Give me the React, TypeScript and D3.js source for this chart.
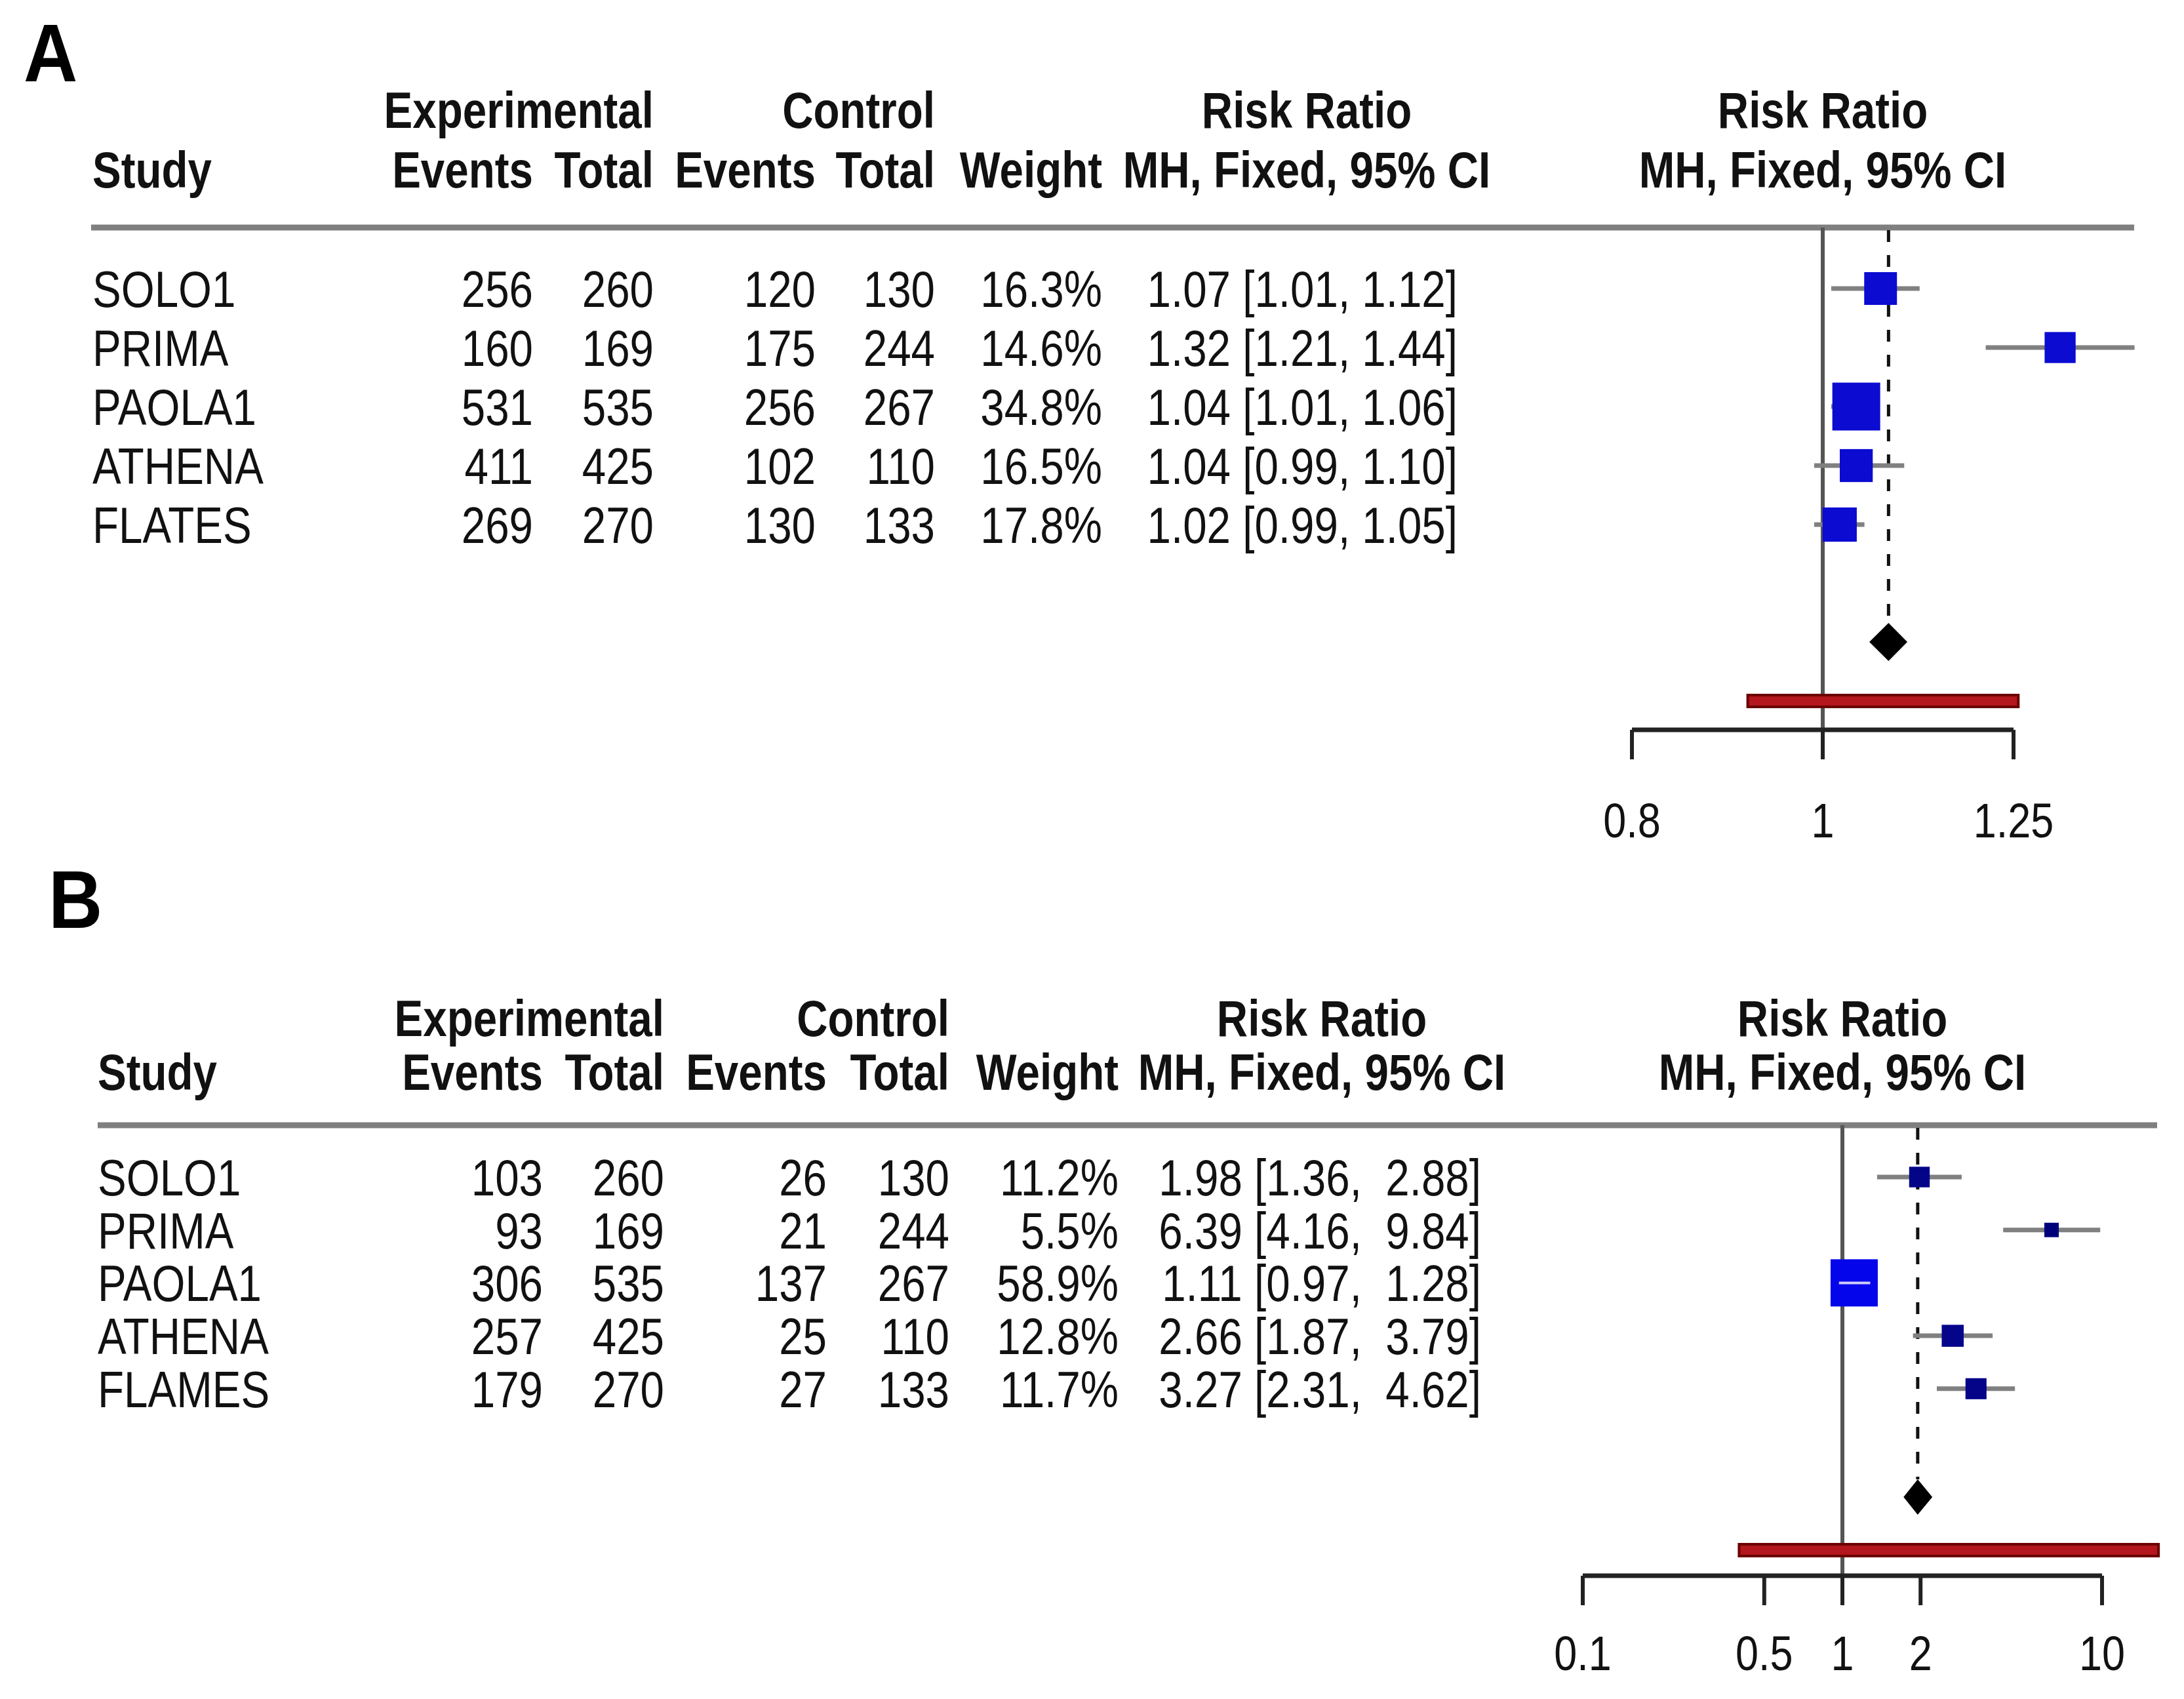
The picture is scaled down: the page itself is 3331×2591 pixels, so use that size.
import React from 'react';
import * as d3 from 'd3';

// ---- Panel A ----
const studiesA = ['SOLO1', 'PRIMA', 'PAOLA1', 'ATHENA', 'FLATES'];
const expEventsA = [256, 160, 531, 411, 269];
const expTotalA = [260, 169, 535, 425, 270];
const ctrlEventsA = [120, 175, 256, 102, 130];
const ctrlTotalA = [130, 244, 267, 110, 133];
const weightA = [16.3, 14.6, 34.8, 16.5, 17.8];
const rrA = [1.07, 1.32, 1.04, 1.04, 1.02];
const lowerA = [1.01, 1.21, 1.01, 0.99, 0.99];
const upperA = [1.12, 1.44, 1.06, 1.10, 1.05];
const pooledA = [1.056, 1.08, 1.104]; // lower, estimate, upper
const predictA = [0.916, 1.257];
const ticksA = [0.8, 1, 1.25];

// ---- Panel B ----
const studiesB = ['SOLO1', 'PRIMA', 'PAOLA1', 'ATHENA', 'FLAMES'];
const expEventsB = [103, 93, 306, 257, 179];
const expTotalB = [260, 169, 535, 425, 270];
const ctrlEventsB = [26, 21, 137, 25, 27];
const ctrlTotalB = [130, 244, 267, 110, 133];
const weightB = [11.2, 5.5, 58.9, 12.8, 11.7];
const rrB = [1.98, 6.39, 1.11, 2.66, 3.27];
const lowerB = [1.36, 4.16, 0.97, 1.87, 2.31];
const upperB = [2.88, 9.84, 1.28, 3.79, 4.62];
const pooledB = [1.72, 1.95, 2.22];
const predictB = [0.40, 16.5];
const ticksB = [0.1, 0.5, 1, 2, 10];

const FONT = "'Liberation Sans', Arial, sans-serif";
const FS = 78;
const SX = 0.84; // the original text is condensed horizontally

// condensed text anchored at (x, y)
const T: React.FC<any> = ({ x, y, anchor = 'start', children, ...rest }) => (
    <text transform={`translate(${x},${y}) scale(${SX},1)`} textAnchor={anchor}
        style={{ whiteSpace: 'pre' }} {...rest}>{children}</text>
);

interface Layout {
    labelX: number; labelY: number;
    head1Y: number; head2Y: number;
    ruleY: number; ruleX1: number; ruleX2: number;
    row0: number; rowStep: number;
    studyX: number; cols: number[]; ciRight: number; ciCenter: number;
    xRange: [number, number];
    diamondY: number; diamondH: number;
    predY: number; axisY: number; tickLabelY: number;
    sqMax: number;
}

interface PanelProps {
    label: string;
    studies: string[];
    expEvents: number[]; expTotal: number[];
    ctrlEvents: number[]; ctrlTotal: number[];
    weight: number[]; rr: number[]; lower: number[]; upper: number[];
    pooled: number[]; predict: number[]; ticks: number[];
    ciSep: string;
    squareColor: (w: number) => string;
    insideColor: string;
    layout: Layout;
}

const Panel: React.FC<PanelProps> = (p) => {
    const L = p.layout;
    const x = d3.scaleLog()
        .domain([p.ticks[0], p.ticks[p.ticks.length - 1]])
        .range(L.xRange);
    const sq = d3.scaleSqrt()
        .domain([0, d3.max(p.weight) as number])
        .range([0, L.sqMax]);
    const base = (i: number) => L.row0 + i * L.rowStep;
    const mid = (i: number) => base(i) - 28;
    const f2 = d3.format('.2f');
    const plotMid = (L.xRange[0] + L.xRange[1]) / 2;

    const numCols = [p.expEvents, p.expTotal, p.ctrlEvents, p.ctrlTotal];
    const headCols = ['Events', 'Total', 'Events', 'Total', 'Weight'];

    return (
        <g fontFamily={FONT} fill="#111">
            <text x={L.labelX} y={L.labelY} fontSize={124} fontWeight="bold" fill="#000"
                transform={`translate(${L.labelX},${L.labelY}) scale(0.92,1) translate(${-L.labelX},${-L.labelY})`}>
                {p.label}
            </text>

            {/* headers */}
            <g fontWeight="bold" fontSize={FS}>
                <T x={L.cols[1]} y={L.head1Y} anchor="end">Experimental</T>
                <T x={L.cols[3]} y={L.head1Y} anchor="end">Control</T>
                <T x={L.ciCenter} y={L.head1Y} anchor="middle">Risk Ratio</T>
                <T x={plotMid} y={L.head1Y} anchor="middle">Risk Ratio</T>
                <T x={L.studyX} y={L.head2Y}>Study</T>
                {headCols.map((h, j) => (
                    <T key={j} x={L.cols[j]} y={L.head2Y} anchor="end">{h}</T>
                ))}
                <T x={L.ciCenter} y={L.head2Y} anchor="middle">MH, Fixed, 95% CI</T>
                <T x={plotMid} y={L.head2Y} anchor="middle">MH, Fixed, 95% CI</T>
            </g>

            <line x1={L.ruleX1} x2={L.ruleX2} y1={L.ruleY} y2={L.ruleY}
                stroke="#7f7f7f" strokeWidth={9} />

            {/* table rows */}
            <g fontSize={FS}>
                {p.studies.map((s, i) => (
                    <g key={s}>
                        <T x={L.studyX} y={base(i)}>{s}</T>
                        {numCols.map((c, j) => (
                            <T key={j} x={L.cols[j]} y={base(i)} anchor="end">{c[i]}</T>
                        ))}
                        <T x={L.cols[4]} y={base(i)} anchor="end">{p.weight[i].toFixed(1)}%</T>
                        <T x={L.ciRight} y={base(i)} anchor="end">
                            {`${f2(p.rr[i])} [${f2(p.lower[i])},${p.ciSep}${f2(p.upper[i])}]`}
                        </T>
                    </g>
                ))}
            </g>

            {/* reference line at 1 */}
            <line x1={x(1)} x2={x(1)} y1={L.ruleY} y2={L.axisY} stroke="#555" strokeWidth={6} />
            {/* pooled estimate dashed line */}
            <line x1={x(p.pooled[1])} x2={x(p.pooled[1])} y1={L.ruleY + 4} y2={L.diamondY - L.diamondH}
                stroke="#111" strokeWidth={5} strokeDasharray="18 20" />

            {/* study CIs and squares */}
            {p.studies.map((s, i) => {
                const cx = x(p.rr[i]);
                const size = sq(p.weight[i]);
                const inside = x(p.lower[i]) >= cx - size / 2 && x(p.upper[i]) <= cx + size / 2;
                return (
                    <g key={s}>
                        <line x1={x(p.lower[i])} x2={x(p.upper[i])} y1={mid(i)} y2={mid(i)}
                            stroke="#808080" strokeWidth={7} />
                        <rect x={cx - size / 2} y={mid(i) - size / 2} width={size} height={size}
                            fill={p.squareColor(p.weight[i])} />
                        {inside && (
                            <line x1={x(p.lower[i])} x2={x(p.upper[i])} y1={mid(i)} y2={mid(i)}
                                stroke={p.insideColor} strokeWidth={4} opacity={0.8} />
                        )}
                    </g>
                );
            })}

            {/* pooled diamond */}
            <path d={`M${x(p.pooled[0])},${L.diamondY} L${x(p.pooled[1])},${L.diamondY - L.diamondH} L${x(p.pooled[2])},${L.diamondY} L${x(p.pooled[1])},${L.diamondY + L.diamondH} Z`}
                fill="#000" />

            {/* prediction interval */}
            <rect x={x(p.predict[0])} y={L.predY - 9} width={x(p.predict[1]) - x(p.predict[0])} height={18}
                fill="#b3161c" stroke="#6b0000" strokeWidth={4} />

            {/* axis */}
            <line x1={x(p.ticks[0])} x2={x(p.ticks[p.ticks.length - 1])} y1={L.axisY} y2={L.axisY}
                stroke="#222" strokeWidth={7} />
            {p.ticks.map(t => (
                <g key={t}>
                    <line x1={x(t)} x2={x(t)} y1={L.axisY} y2={L.axisY + 45} stroke="#222" strokeWidth={6} />
                    <T x={x(t)} y={L.tickLabelY} anchor="middle" fontSize={75}>{String(t)}</T>
                </g>
            ))}
        </g>
    );
};

const layoutA: Layout = {
    labelX: 36, labelY: 124,
    head1Y: 195, head2Y: 286,
    ruleY: 347, ruleX1: 139, ruleX2: 3255,
    row0: 468, rowStep: 90,
    studyX: 141, cols: [813, 997, 1244, 1426, 1681], ciRight: 2223, ciCenter: 1993,
    xRange: [2489, 3071],
    diamondY: 979, diamondH: 29,
    predY: 1069, axisY: 1113, tickLabelY: 1277,
    sqMax: 73,
};

const layoutB: Layout = {
    labelX: 74, labelY: 1415,
    head1Y: 1580, head2Y: 1662,
    ruleY: 1716, ruleX1: 149, ruleX2: 3290,
    row0: 1823, rowStep: 80.7,
    studyX: 149, cols: [828, 1013, 1261, 1448, 1706], ciRight: 2259, ciCenter: 2016,
    xRange: [2414, 3206],
    diamondY: 2283, diamondH: 27,
    predY: 2364, axisY: 2403, tickLabelY: 2547,
    sqMax: 72,
};

// small squares in B look navy, the big one bright blue
const colorB = d3.scaleLinear<string>().domain([5, 20, 60]).range(['#00007a', '#0a0a9c', '#0505ee']);

const App: React.FC = () => (
    <svg width={3331} height={2591} viewBox="0 0 3331 2591"
        style={{ position: 'absolute', left: 0, top: 0, background: '#fff' }}>
        <rect width={3331} height={2591} fill="#fff" />
        <Panel label="A" studies={studiesA} expEvents={expEventsA} expTotal={expTotalA}
            ctrlEvents={ctrlEventsA} ctrlTotal={ctrlTotalA} weight={weightA}
            rr={rrA} lower={lowerA} upper={upperA} pooled={pooledA} predict={predictA}
            ticks={ticksA} ciSep=" " squareColor={() => '#0b0bd2'} insideColor="#10106a"
            layout={layoutA} />
        <Panel label="B" studies={studiesB} expEvents={expEventsB} expTotal={expTotalB}
            ctrlEvents={ctrlEventsB} ctrlTotal={ctrlTotalB} weight={weightB}
            rr={rrB} lower={lowerB} upper={upperB} pooled={pooledB} predict={predictB}
            ticks={ticksB} ciSep="  " squareColor={w => colorB(w)} insideColor="#ffffff"
            layout={layoutB} />
    </svg>
);

export default App;
